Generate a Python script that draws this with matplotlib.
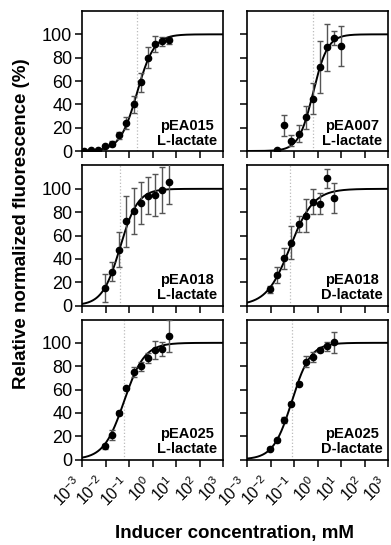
import numpy as np
import matplotlib
matplotlib.use("Agg")
import matplotlib.pyplot as plt
import matplotlib.transforms as mtrans

plt.rcParams['font.family'] = ['Liberation Sans', 'DejaVu Sans']

# dilution series (mM)
conc_5mM_13 = [0.00122, 0.00244, 0.00488, 0.00977, 0.0195, 0.039, 0.078, 0.156, 0.3125, 0.625, 1.25, 2.5, 5.0]
conc_5mM_10 = [0.00977, 0.0195, 0.039, 0.078, 0.156, 0.3125, 0.625, 1.25, 2.5, 5.0]
conc_10mM_10 = [0.0195, 0.039, 0.078, 0.156, 0.3125, 0.625, 1.25, 2.5, 5.0, 10.0]

labels = ["pEA015\nL-lactate", "pEA007\nL-lactate",
          "pEA018\nL-lactate", "pEA018\nD-lactate",
          "pEA025\nL-lactate", "pEA025\nD-lactate"]

concs = [conc_5mM_13, conc_10mM_10, conc_5mM_10, conc_5mM_10, conc_5mM_10, conc_5mM_10]

y_015L = [0, 0.6, 1.1, 4, 6.3, 13.4, 24, 40, 59, 80, 92, 94, 95]
e_015L = [0.5, 0.5, 1, 1.5, 2, 3, 5, 7, 8, 9, 7, 4, 3]
y_007L = [0.6, 22, 9, 15, 29, 45, 72, 89, 97, 90]
e_007L = [1.5, 9, 5, 7, 10, 13, 22, 20, 6, 17]
y_018L = [15, 29, 48, 72, 81, 88, 94, 95, 99, 106]
e_018L = [12, 8, 15, 22, 20, 18, 16, 18, 20, 19]
y_018D = [14, 26, 40.6, 54, 70, 77, 89, 87, 109, 92]
e_018D = [3, 7, 9, 14, 7, 14, 11, 9, 8, 13]
y_025L = [11.3, 21, 40, 61, 75, 80, 87, 94, 95, 106]
e_025L = [2, 4, 1.5, 1.5, 4, 4, 4.5, 7.5, 6, 14]
y_025D = [9.3, 16.4, 34, 48, 65, 84, 88, 94, 97, 100.5]
e_025D = [1, 1.5, 2.5, 1.5, 1.5, 5, 4, 2, 4, 9]

ys = [y_015L, y_007L, y_018L, y_018D, y_025L, y_025D]
es = [e_015L, e_007L, e_018L, e_018D, e_025L, e_025D]

# fitted Hill parameters (EC50 in mM, hill slope)
ec50 = [0.22, 0.65, 0.042, 0.068, 0.062, 0.081]
hill = [1.2, 1.4, 1.15, 0.87, 1.0, 1.1]

fig = plt.figure(figsize=(3.91, 5.45), dpi=100)

lefts = [82, 247]
bottoms = [151, 305.5, 459.5]
W, H = 141, 140

xfit = np.logspace(-3, 3, 400)
shift = mtrans.ScaledTranslation(-0.10, -0.04, fig.dpi_scale_trans)

for i in range(6):
    r, c = i // 2, i % 2
    ax = fig.add_axes([lefts[c] / 391, 1 - bottoms[r] / 545, W / 391, H / 545])
    ax.set_xscale('log')
    ax.set_xlim(1e-3, 1e3)
    ax.set_ylim(0, 120)

    ax.axvline(ec50[i], color='#bbbbbb', ls=':', lw=0.9, zorder=1)
    yfit = 100 / (1 + (ec50[i] / xfit) ** hill[i])
    ax.plot(xfit, yfit, color='black', lw=1.4, zorder=3)
    ax.errorbar(concs[i], ys[i], yerr=es[i], fmt='o', color='black', ms=4.5,
                ecolor='#555555', elinewidth=1.0, capsize=2.5, capthick=1.0, zorder=4)

    ax.text(0.745, 0.043, labels[i], transform=ax.transAxes, ha='center', va='baseline',
            multialignment='center', fontsize=10.5, fontweight='bold', linespacing=1.1)

    ax.set_yticks([0, 20, 40, 60, 80, 100])
    ax.set_xticks([1e-3, 1e-2, 1e-1, 1e0, 1e1, 1e2, 1e3])
    ax.tick_params(axis='both', which='major', direction='out', length=5, width=1.1, pad=2)
    ax.tick_params(axis='x', which='minor', direction='out', length=3, width=0.8)
    for s in ax.spines.values():
        s.set_linewidth(1.2)
    ax.tick_params(axis='y', labelsize=13)
    ax.tick_params(axis='x', labelsize=11.5)
    if c == 1:
        ax.tick_params(axis='y', labelleft=False)
    if r < 2:
        ax.tick_params(axis='x', labelbottom=False)
    else:
        for lab in ax.get_xticklabels():
            lab.set_rotation(45)
            lab.set_ha('right')
            lab.set_rotation_mode('anchor')
            lab.set_transform(lab.get_transform() + shift)

fig.text(0.056, 0.59, "Relative normalized fluorescence (%)", rotation=90,
         ha='center', va='center', fontsize=13.5, fontweight='bold')
fig.text(0.6, 0.022, "Inducer concentration, mM", ha='center', va='center',
         fontsize=13.5, fontweight='bold')

fig.savefig("out.png", dpi=100)
